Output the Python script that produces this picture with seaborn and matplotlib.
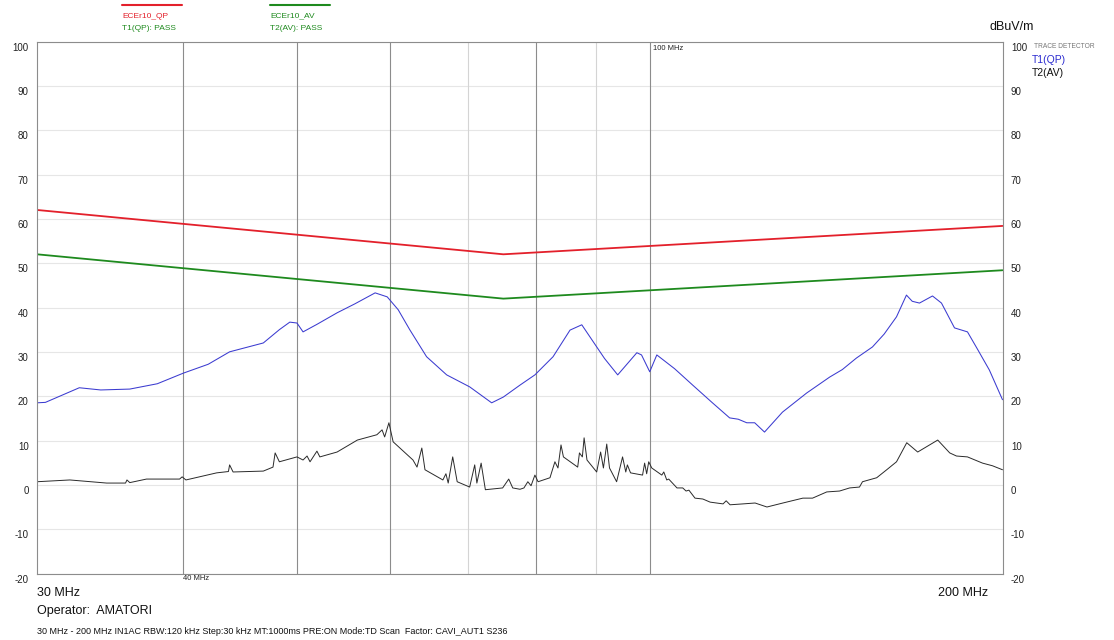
"""
EMC radiated emission scan 30-200 MHz (ECE R10 limits)
"""
import numpy as np
import matplotlib
matplotlib.use('Agg')
import matplotlib.pyplot as plt
from matplotlib.ticker import NullLocator
from matplotlib.transforms import ScaledTranslation
import seaborn as sns

sns.set_style('white')
plt.rcParams['font.family'] = ['Liberation Sans', 'DejaVu Sans']
plt.rcParams['axes.unicode_minus'] = False

# Limit lines (MHz, dBuV/m)
limit_mhz = [30, 75, 200]
limit_qp = [62, 52, 58.4]
limit_av = [52, 42, 48.4]

# T1 (QP) trace
qp_mhz = [30.0, 30.5, 32.6, 34.0, 36.0, 38.0, 40.0, 42.0, 43.8, 46.8, 48.3, 49.3, 50.0, 50.6,
          52.0, 54.1, 56.0, 58.3, 59.7, 61.0, 62.4, 64.5, 67.1, 70.2, 73.3, 75.0, 77.5, 79.8,
          82.7, 85.5, 87.5, 88.9, 91.5, 93.9, 97.5, 98.4, 100.0, 101.4, 105.0, 108.8, 113.0,
          117.0, 119.0, 121.0, 122.9, 125.3, 129.8, 136.1, 142.4, 146.0, 150.1, 154.9, 158.5,
          162.4, 165.6, 167.5, 169.9, 174.3, 177.4, 182.0, 186.7, 190.5, 194.9, 200.0]
qp_db = [18.5, 18.6, 21.9, 21.4, 21.6, 22.8, 25.2, 27.2, 30.0, 32.0, 35.0, 36.7, 36.5, 34.5,
         36.2, 38.8, 40.8, 43.3, 42.4, 39.5, 35.0, 28.9, 24.8, 22.1, 18.5, 19.8, 22.5, 24.8,
         28.9, 34.9, 36.1, 33.4, 28.5, 24.8, 29.8, 29.3, 25.5, 29.3, 26.2, 22.5, 18.6,
         15.1, 14.8, 14.0, 14.0, 11.9, 16.4, 20.7, 24.3, 26.0, 28.6, 31.1, 34.0,
         37.9, 42.8, 41.4, 41.0, 42.6, 41.0, 35.4, 34.5, 30.5, 25.9, 19.2]

# T2 (AV) trace
av_mhz = [30.0, 32.0, 34.4, 35.7, 35.8, 36.0, 37.2, 39.7, 39.9, 40.2, 42.7, 43.7, 43.8, 44.1,
          46.8, 47.7, 47.9, 48.3, 50.0, 50.6, 51.0, 51.3, 52.0, 52.3, 54.1, 56.3, 58.5, 59.1,
          59.4, 59.9, 60.4, 62.8, 63.3, 63.9, 64.3, 66.6, 67.0, 67.3, 67.9, 68.5, 70.2, 70.9,
          71.2, 71.8, 72.4, 74.9, 75.8, 76.4, 77.5, 78.1, 78.7, 79.2, 79.8, 80.3, 82.2, 83.0,
          83.5, 84.0, 84.4, 86.8, 87.1, 87.6, 87.9, 88.4, 90.1, 90.8, 91.3, 91.9, 92.4, 93.7,
          94.8, 95.4, 95.7, 96.3, 98.6, 99.0, 99.4, 99.8, 100.4, 102.4, 102.8, 103.4, 103.8,
          105.5, 106.7, 107.4, 108.0, 109.3, 111.0, 112.6, 115.5, 116.2, 117.1, 120.1, 123.0,
          125.9, 129.9, 135.1, 137.7, 141.6, 145.2, 148.1, 151.0, 151.9, 156.2, 159.3, 162.4,
          165.7, 169.3, 173.3, 176.1, 180.3, 182.7, 186.7, 192.3, 196.1, 200.0]
av_db = [0.7, 1.1, 0.4, 0.4, 1.1, 0.5, 1.3, 1.3, 1.8, 1.1, 2.7, 3.0, 4.5, 2.9,
         3.1, 4.0, 7.2, 5.2, 6.3, 5.6, 6.5, 5.2, 7.6, 6.3, 7.4, 10.1, 11.3, 12.4,
         10.8, 14.0, 9.7, 5.6, 4.0, 8.3, 3.4, 1.1, 2.5, 0.4, 6.3, 0.7, -0.5, 4.5,
         0.4, 4.9, -1.1, -0.7, 1.3, -0.7, -1.0, -0.7, 0.7, -0.2, 2.2, 0.7, 1.6, 5.2,
         3.8, 9.0, 6.3, 4.0, 7.2, 6.3, 10.6, 5.6, 2.9, 7.4, 3.8, 9.2, 3.8, 0.7,
         6.3, 2.9, 4.5, 2.7, 2.2, 4.9, 2.5, 5.2, 3.8, 2.2, 2.9, 1.1, 1.3,
         -0.7, -0.7, -1.4, -1.2, -3.0, -3.2, -3.9, -4.3, -3.6, -4.5, -4.3, -4.1,
         -5.0, -4.1, -3.0, -3.0, -1.6, -1.4, -0.7, -0.5, 0.7, 1.6, 3.4, 5.2,
         9.5, 7.4, 9.0, 10.1, 7.2, 6.5, 6.3, 4.9, 4.3, 3.4]

grid_dark = [40, 50, 60, 80, 100]
grid_light = [70, 90]
y_ticks = list(range(-20, 101, 10))

W, H = 1114, 640
fig = plt.figure(figsize=(W / 100, H / 100), dpi=100)
ax = fig.add_axes([37 / W, 1 - 573.5 / H, 965.5 / W, 532 / H])
ax.set_xscale('log')

for y in y_ticks:
    ax.axhline(y, color='#e6e6e6', lw=0.8, zorder=0)
for f in grid_dark:
    ax.axvline(f, color='#8c8c8c', lw=0.8, zorder=0)
for f in grid_light:
    ax.axvline(f, color='#d4d4d4', lw=0.8, zorder=0)

sns.lineplot(x=limit_mhz, y=limit_qp, ax=ax, color='#e3202b', lw=1.3)
sns.lineplot(x=limit_mhz, y=limit_av, ax=ax, color='#1e8a1e', lw=1.3)
sns.lineplot(x=qp_mhz, y=qp_db, ax=ax, color='#3b3bd0', lw=0.75)
sns.lineplot(x=av_mhz, y=av_db, ax=ax, color='#2a2a2a', lw=0.7)

ax.set_xlim(30, 200)
ax.set_ylim(-20, 100)
ax.xaxis.set_major_locator(NullLocator())
ax.xaxis.set_minor_locator(NullLocator())
ax.set_yticks(y_ticks)
ax.tick_params(axis='y', length=0, labelsize=7, labelright=True, labelcolor='#222222', pad=6)
# labels sit a little below their grid lines, as in the analyser print-out
shift = ScaledTranslation(0, -5.3 / 100, fig.dpi_scale_trans)
for t in ax.yaxis.get_major_ticks():
    t.label1.set_transform(t.label1.get_transform() + shift)
    t.label2.set_transform(t.label2.get_transform() + shift)
for s in ax.spines.values():
    s.set_color('#8c8c8c')
    s.set_linewidth(0.8)
ax.set_xlabel('')
ax.set_ylabel('')

# frequency markers inside the plot
ax.text(40, -20.3, '40 MHz', fontsize=5.5, ha='left', va='top', color='#222222')
ax.text(100.6, 99.3, '100 MHz', fontsize=5.5, ha='left', va='top', color='#222222')

# header legend
fig.add_artist(plt.Line2D([122 / W, 182 / W], [1 - 5 / H] * 2, color='#e3202b', lw=1.5))
fig.add_artist(plt.Line2D([270 / W, 330 / W], [1 - 5 / H] * 2, color='#1e8a1e', lw=1.5))
fig.text(122 / W, 1 - 16 / H, 'ECEr10_QP', fontsize=6, color='#e3202b', va='center')
fig.text(122 / W, 1 - 28 / H, 'T1(QP): PASS', fontsize=6, color='#1e8a1e', va='center')
fig.text(270 / W, 1 - 16 / H, 'ECEr10_AV', fontsize=6, color='#1e8a1e', va='center')
fig.text(270 / W, 1 - 28 / H, 'T2(AV): PASS', fontsize=6, color='#1e8a1e', va='center')

fig.text(990 / W, 1 - 27 / H, 'dBuV/m', fontsize=9, color='#111111', va='center')
fig.text(1034 / W, 1 - 46 / H, 'TRACE DETECTOR', fontsize=4.8, color='#777777', va='center')
fig.text(1032 / W, 1 - 60 / H, 'T1(QP)', fontsize=7.5, color='#2b2bd0', va='center')
fig.text(1032 / W, 1 - 73 / H, 'T2(AV)', fontsize=7.5, color='#111111', va='center')

# footer
fig.text(37 / W, 1 - 593 / H, '30 MHz', fontsize=9, color='#111111', va='center')
fig.text(988 / W, 1 - 593 / H, '200 MHz', fontsize=9, color='#111111', va='center', ha='right')
fig.text(37 / W, 1 - 611 / H, 'Operator:  AMATORI', fontsize=9, color='#111111', va='center')
fig.text(37 / W, 1 - 631 / H,
         '30 MHz - 200 MHz IN1AC RBW:120 kHz Step:30 kHz MT:1000ms PRE:ON Mode:TD Scan  Factor: CAVI_AUT1 S236',
         fontsize=6.5, color='#111111', va='center')

fig.savefig('out.png', dpi=100, facecolor='white')
